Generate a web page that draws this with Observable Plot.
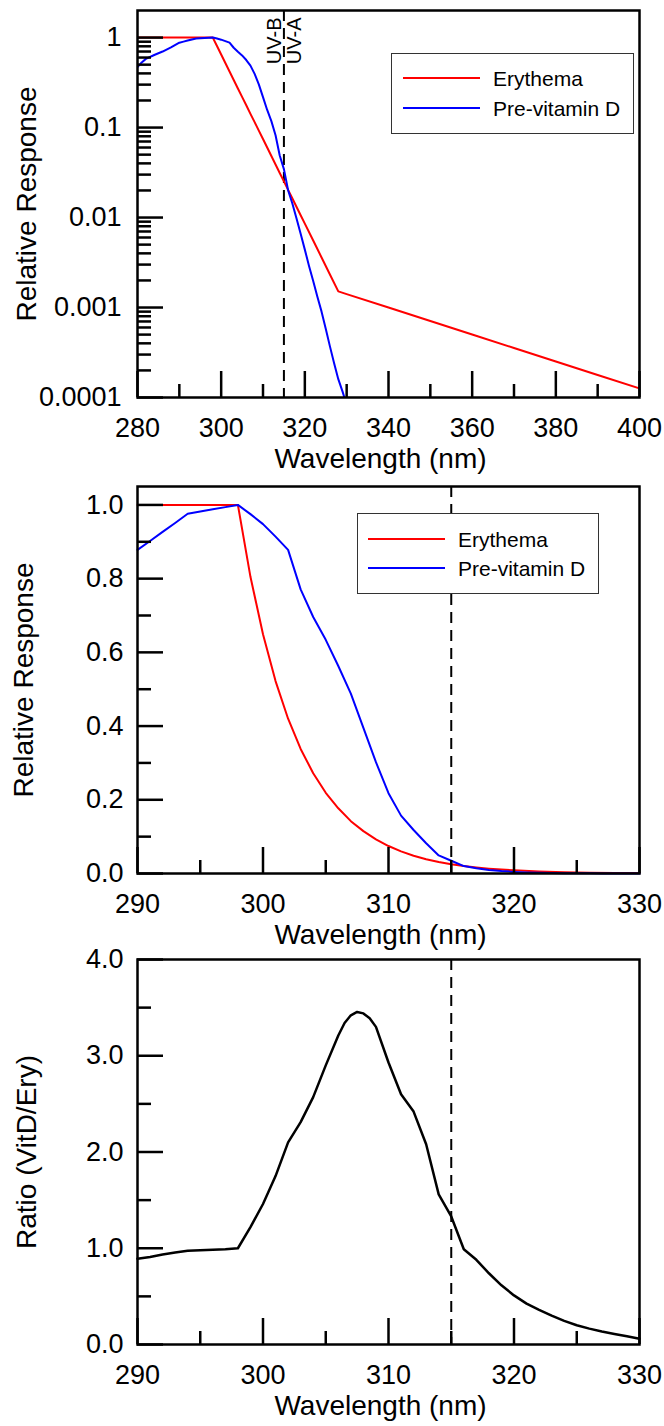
<!DOCTYPE html>
<html>
<head>
<meta charset="utf-8">
<script src="https://cdn.jsdelivr.net/npm/d3@7"></script>
<script src="https://cdn.jsdelivr.net/npm/@observablehq/plot@0.6"></script>
<style>
html, body { margin: 0; padding: 0; background: #fff; }
#wrap { position: relative; width: 664px; height: 1426px; font-family: "Liberation Sans", Arial, Helvetica, sans-serif; }
#wrap svg { display: block; overflow: visible; }
.legend { position: absolute; background: #fff; border: 1.5px solid #333; box-sizing: border-box; }
.legend .sw { position: absolute; height: 2px; }
.legend .lt { position: absolute; font-size: 21px; line-height: 1; transform: translateY(-50%); color: #000; white-space: nowrap; }
</style>
</head>
<body>
<div id="wrap"></div>
<script>
// ---------- data ----------
const erythemaNm = [280, 290, 298,
  299, 300, 301, 302, 303, 304, 305, 306, 307, 308, 309, 310,
  311, 312, 313, 314, 315, 316, 317, 318, 319, 320,
  322, 324, 326, 328, 330,
  340, 350, 360, 370, 380, 390, 400];
const erythemaVal = [1, 1, 1,
  0.805, 0.649, 0.522, 0.420, 0.338, 0.272, 0.219, 0.177, 0.142, 0.115, 0.0925, 0.0745,
  0.0600, 0.0483, 0.0389, 0.0313, 0.0252, 0.0203, 0.0164, 0.0132, 0.0106, 0.00855,
  0.00555, 0.00360, 0.00233, 0.00151, 0.00141,
  0.00100, 0.000708, 0.000501, 0.000355, 0.000251, 0.000178, 0.000126];

const vitDNm = [280, 281, 282, 284, 286, 288,
  290, 291, 292, 293, 294, 295, 296, 297, 298,
  299, 300, 301, 302, 303, 304, 305, 306, 307, 308,
  309, 310, 311, 312, 313, 314, 315, 316, 317, 318,
  319, 320, 321, 322, 323, 324, 325, 326, 327, 328,
  329, 330];
const vitDVal = [0.47, 0.53, 0.58, 0.64, 0.70, 0.78,
  0.878, 0.902, 0.927, 0.951, 0.976, 0.982, 0.988, 0.994, 1.0,
  0.975, 0.948, 0.914, 0.878, 0.771, 0.696, 0.634, 0.563, 0.488, 0.395,
  0.302, 0.218, 0.157, 0.118, 0.082, 0.0490, 0.0345, 0.0201, 0.0144, 0.0098,
  0.0066, 0.0044, 0.0029, 0.00197, 0.00132, 0.00090, 0.00058, 0.00037, 0.00024, 0.00016,
  0.000117, 0.000083];

const ratioNm = [290, 291, 292, 293, 294, 295, 296, 297, 298,
  299, 300, 301, 302, 303, 304, 305, 306, 306.5, 307, 307.5, 308, 308.5, 309, 310,
  311, 312, 313, 314, 315, 316, 317, 318, 319, 320,
  321, 322, 323, 324, 325, 326, 327, 328, 329, 330];
const ratioVal = [0.89, 0.91, 0.935, 0.955, 0.975, 0.98, 0.985, 0.99, 1.0,
  1.22, 1.46, 1.75, 2.10, 2.31, 2.57, 2.90, 3.21, 3.34, 3.42, 3.455, 3.44, 3.39, 3.30, 2.93,
  2.60, 2.42, 2.08, 1.56, 1.33, 0.99, 0.88, 0.74, 0.615, 0.51,
  0.425, 0.36, 0.30, 0.245, 0.20, 0.165, 0.135, 0.11, 0.085, 0.059];

const uvBoundary = [315];
const seriesNames = ["Erythema", "Pre-vitamin D"];
const seriesColors = ["#ff0000", "#0000ff"];
const xLabel = "Wavelength (nm)";
const yLabels = ["Relative Response", "Relative Response", "Ratio (VitD/Ery)"];

// ticks
const x1Major = [280, 300, 320, 340, 360, 380, 400];
const x1Minor = [290, 310, 330, 350, 370, 390];
const y1Major = [0.0001, 0.001, 0.01, 0.1, 1];
const y1MajorLabels = ["0.0001", "0.001", "0.01", "0.1", "1"];
const y1Minor = [
  0.0002, 0.0003, 0.0004, 0.0005, 0.0006, 0.0007, 0.0008, 0.0009,
  0.002, 0.003, 0.004, 0.005, 0.006, 0.007, 0.008, 0.009,
  0.02, 0.03, 0.04, 0.05, 0.06, 0.07, 0.08, 0.09,
  0.2, 0.3, 0.4, 0.5, 0.6, 0.7, 0.8, 0.9];
const x2Major = [290, 300, 310, 320, 330];
const x2Minor = [295, 305, 315, 325];
const y2Major = [0, 0.2, 0.4, 0.6, 0.8, 1.0];
const y2MajorLabels = ["0.0", "0.2", "0.4", "0.6", "0.8", "1.0"];
const y2Minor = [0.1, 0.3, 0.5, 0.7, 0.9];
const y3Major = [0, 1, 2, 3, 4];
const y3MajorLabels = ["0.0", "1.0", "2.0", "3.0", "4.0"];
const y3Minor = [0.5, 1.5, 2.5, 3.5];

// ---------- tables ----------
const erythema = erythemaNm.map((nm, i) => ({nm, value: erythemaVal[i]}));
const vitD = vitDNm.map((nm, i) => ({nm, value: vitDVal[i]}));
const ratio = ratioNm.map((nm, i) => ({nm, value: ratioVal[i]}));

const FONT = '"Liberation Sans", Arial, Helvetica, sans-serif';
const style = {fontFamily: FONT, fontSize: "27px", color: "black", background: "white", overflow: "visible"};

function axes(xMaj, xMin, yMaj, yMajLab, yMin, yPad) {
  return [
    Plot.axisX({ticks: xMaj, tickSize: -26, fill: "none", strokeWidth: 2.5, label: null}),
    Plot.axisX({ticks: xMin, tickSize: -13, fill: "none", strokeWidth: 2.5, label: null}),
    Plot.axisX({ticks: xMaj, tickSize: 0, tickPadding: 20, tickFormat: d => String(d), label: null, fontSize: 27}),
    Plot.axisY({ticks: yMaj, tickSize: -26, fill: "none", strokeWidth: 2.5, label: null}),
    Plot.axisY({ticks: yMin, tickSize: -14, fill: "none", strokeWidth: 2.5, label: null}),
    Plot.axisY({ticks: yMaj, tickSize: 0, tickPadding: yPad, tickFormat: d => yMajLab[yMaj.indexOf(d)], label: null, fontSize: 27}),
    Plot.frame({stroke: "black", strokeWidth: 2.5})
  ];
}
function labels(yLab, yOff) {
  return [
    Plot.text([xLabel], {text: d => d, frameAnchor: "bottom", dy: 70, dx: -8, lineAnchor: "bottom", fontSize: 28}),
    Plot.text([yLab], {text: d => d, frameAnchor: "left", textAnchor: "middle", dx: -yOff, rotate: -90, lineAnchor: "top", fontSize: 28})
  ];
}

const inRange = d => d.nm >= 290 && d.nm <= 330;

const p1 = Plot.plot({
  width: 664, height: 478, marginLeft: 137, marginRight: 25, marginTop: 10, marginBottom: 81,
  style,
  x: {domain: [280, 400]},
  y: {type: "log", domain: [0.0001, 2]},
  marks: [
    Plot.ruleX(uvBoundary, {stroke: "black", strokeWidth: 2, strokeDasharray: "11,7"}),
    Plot.line(erythema, {x: "nm", y: "value", stroke: seriesColors[0], strokeWidth: 2, clip: true}),
    Plot.line(vitD, {x: "nm", y: "value", stroke: seriesColors[1], strokeWidth: 2, clip: true}),
    Plot.text(uvBoundary, {x: d => d, text: () => "UV-B", frameAnchor: "top", rotate: -90, textAnchor: "end", lineAnchor: "bottom", dx: -3, dy: 7, fontSize: 20}),
    Plot.text(uvBoundary, {x: d => d, text: () => "UV-A", frameAnchor: "top", rotate: -90, textAnchor: "end", lineAnchor: "top", dx: 3, dy: 7, fontSize: 20}),
    ...axes(x1Major, x1Minor, y1Major, y1MajorLabels, y1Minor, 16),
    ...labels(yLabels[0], 121)
  ]
});

const p2 = Plot.plot({
  width: 664, height: 474, marginLeft: 137, marginRight: 25, marginTop: 8, marginBottom: 79,
  style,
  x: {domain: [290, 330]},
  y: {domain: [0, 1.05]},
  marks: [
    Plot.ruleX(uvBoundary, {stroke: "black", strokeWidth: 2, strokeDasharray: "11,7"}),
    Plot.line(erythema.filter(inRange), {x: "nm", y: "value", stroke: seriesColors[0], strokeWidth: 2}),
    Plot.line(vitD.filter(inRange), {x: "nm", y: "value", stroke: seriesColors[1], strokeWidth: 2}),
    ...axes(x2Major, x2Minor, y2Major, y2MajorLabels, y2Minor, 14),
    ...labels(yLabels[1], 124)
  ]
});

const p3 = Plot.plot({
  width: 664, height: 474, marginLeft: 137, marginRight: 25, marginTop: 7, marginBottom: 82,
  style,
  x: {domain: [290, 330]},
  y: {domain: [0, 4]},
  marks: [
    Plot.ruleX(uvBoundary, {stroke: "black", strokeWidth: 2, strokeDasharray: "11,7"}),
    Plot.line(ratio, {x: "nm", y: "value", stroke: "black", strokeWidth: 2.5}),
    ...axes(x2Major, x2Minor, y3Major, y3MajorLabels, y3Minor, 14),
    ...labels(yLabels[2], 121)
  ]
});

const wrap = document.getElementById("wrap");
wrap.append(p1, p2, p3);

function legend(left, top, width, height, lineX0, lineX1, rowsY, textX) {
  const box = document.createElement("div");
  box.className = "legend";
  Object.assign(box.style, {left: left + "px", top: top + "px", width: width + "px", height: height + "px"});
  seriesNames.forEach((name, i) => {
    const sw = document.createElement("div");
    sw.className = "sw";
    Object.assign(sw.style, {left: lineX0 + "px", width: (lineX1 - lineX0) + "px", top: (rowsY[i] - 1) + "px", background: seriesColors[i]});
    const t = document.createElement("div");
    t.className = "lt";
    t.textContent = name;
    Object.assign(t.style, {left: textX + "px", top: rowsY[i] + "px"});
    box.append(sw, t);
  });
  wrap.append(box);
}
legend(391, 53, 243, 81, 11, 88, [24, 54], 101);
legend(357, 513, 242, 81, 10, 87, [25, 54], 100);
</script>
</body>
</html>
